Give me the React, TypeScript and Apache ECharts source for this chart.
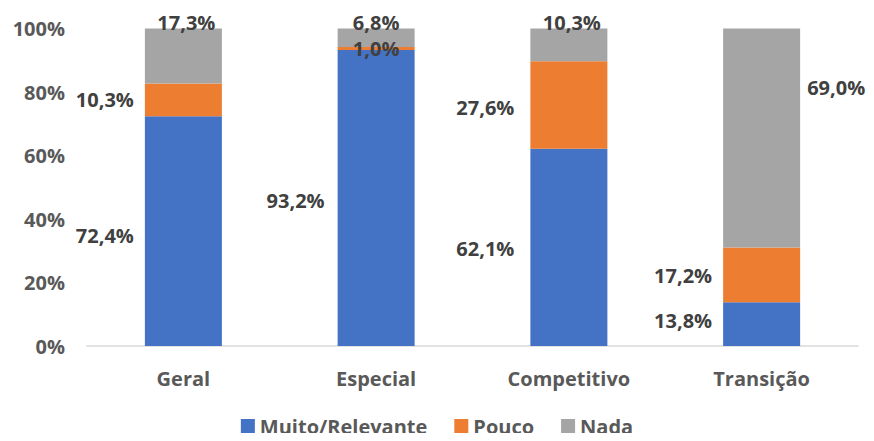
import React, { useEffect, useRef } from "react";
import * as echarts from "echarts";

const categories = ["Geral", "Especial", "Competitivo", "Transição"];
const muitoRelevante = [72.4, 93.2, 62.1, 13.8];
const pouco = [10.3, 1.0, 27.6, 17.2];
const nada = [17.3, 6.8, 10.3, 69.0];
const yTicks = [0, 20, 40, 60, 80, 100];

const FONT = "Open Sans";
const LABEL_COLOR = "#404040";
const AXIS_COLOR = "#595959";

const fmt = (v: number) => v.toFixed(1).replace(".", ",") + "%";

// label placement per series and category
const leftLabel = (distance: number, dy = 0) => ({
  show: true,
  position: "left",
  distance,
  offset: [0, dy],
});

const blueLabels = [leftLabel(11, 4), leftLabel(13, 2), leftLabel(16, 1), leftLabel(11, -4)];
const orangeLabels = [
  leftLabel(11, 0),
  { show: true, position: "inside", offset: [0, 0] },
  leftLabel(16, 2),
  leftLabel(11, 1),
];
const grayLabels = [
  { show: true, position: "top", distance: 0, offset: [3, 4] },
  { show: true, position: "top", distance: 0, offset: [0, 4] },
  { show: true, position: "top", distance: 0, offset: [3, 4] },
  { show: true, position: "right", distance: 7, offset: [0, -51] },
];

const mk = (vals: number[], labels: any[]) =>
  vals.map((v, i) => ({ value: v, label: labels[i] }));

export default function App() {
  const ref = useRef<HTMLDivElement>(null);
  useEffect(() => {
    if (!ref.current) return;
    const chart = echarts.init(ref.current, undefined, { renderer: "svg" });
    const labelStyle = {
      fontFamily: FONT,
      fontWeight: "bold",
      fontSize: 20,
      color: LABEL_COLOR,
      formatter: (p: any) => fmt(p.value),
    };
    const base = {
      type: "bar",
      stack: "total",
      barWidth: 77,
      label: labelStyle,
    };
    chart.setOption({
      animation: false,
      textStyle: { fontFamily: FONT },
      grid: { left: 87, right: 16, top: 28.5, bottom: 95, containLabel: false },
      legend: {
        top: 416,
        padding: 0,
        left: "center",
        icon: "rect",
        itemWidth: 14,
        itemHeight: 14,
        itemGap: 27,
        itemStyle: { borderWidth: 0 },
        textStyle: { fontFamily: FONT, fontSize: 20, fontWeight: "bold", color: AXIS_COLOR },
        data: ["Muito/Relevante", "Pouco", "Nada"],
      },
      xAxis: {
        type: "category",
        data: categories,
        axisLine: { lineStyle: { color: "#D9D9D9", width: 1.5 } },
        axisTick: { show: false },
        axisLabel: { fontFamily: FONT, fontSize: 20, fontWeight: "bold", color: AXIS_COLOR, margin: 22 },
      },
      yAxis: {
        type: "value",
        min: yTicks[0],
        max: yTicks[yTicks.length - 1],
        interval: 20,
        splitLine: { show: false },
        axisLine: { show: false },
        axisTick: { show: false },
        axisLabel: {
          fontFamily: FONT,
          fontSize: 20,
          fontWeight: "bold",
          color: AXIS_COLOR,
          margin: 22,
          formatter: "{value}%",
        },
      },
      series: [
        { ...base, name: "Muito/Relevante", itemStyle: { color: "#4472C4" }, data: mk(muitoRelevante, blueLabels) },
        { ...base, name: "Pouco", itemStyle: { color: "#ED7D31" }, data: mk(pouco, orangeLabels) },
        { ...base, name: "Nada", itemStyle: { color: "#A5A5A5" }, data: mk(nada, grayLabels) },
      ],
    });
    return () => chart.dispose();
  }, []);
  return <div ref={ref} style={{ width: 874, height: 441, margin: -8 }} />;
}
